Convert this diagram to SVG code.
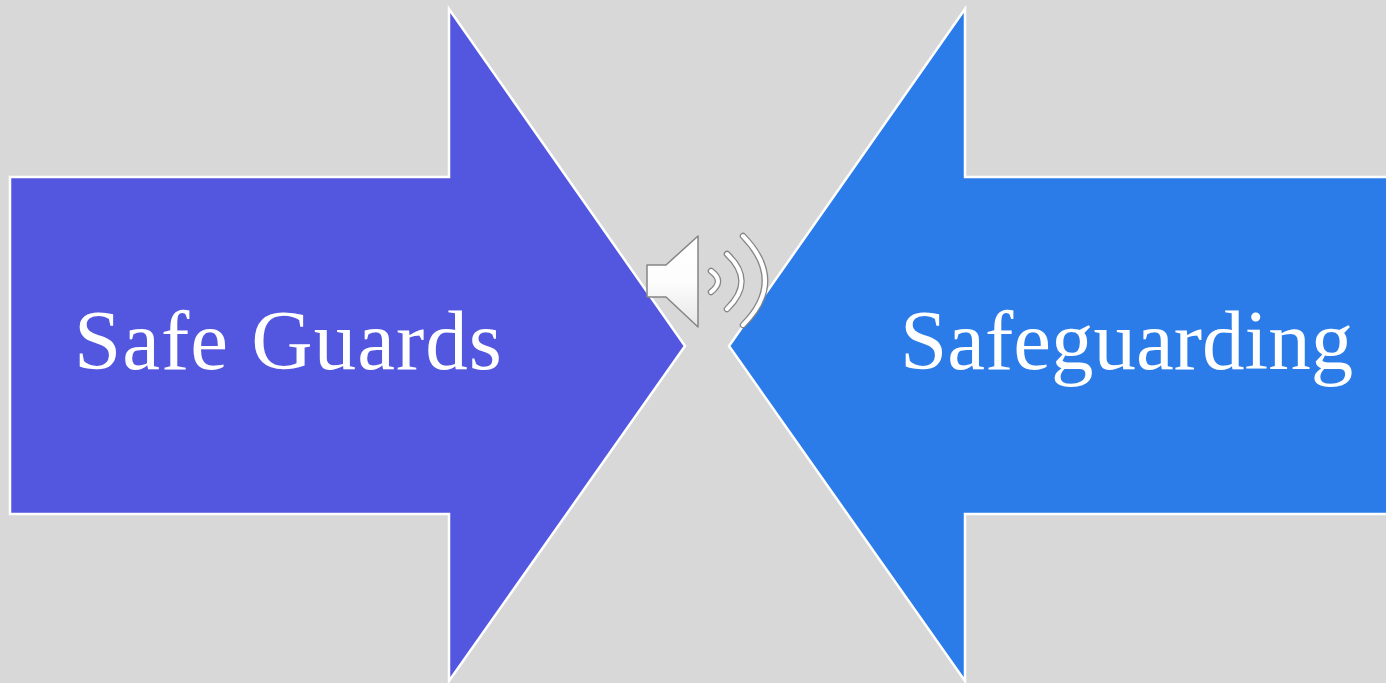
<svg xmlns="http://www.w3.org/2000/svg" width="1386" height="683" viewBox="0 0 1386 683">
<defs><linearGradient id="g" x1="0" y1="0" x2="0" y2="1"><stop offset="0" stop-color="#fff"/><stop offset="0.5" stop-color="#fdfdfd"/><stop offset="1" stop-color="#e6e6e6"/></linearGradient></defs>
<style>.a{stroke:#fff;stroke-width:2.5}.t{fill:#fff;font-family:"Liberation Serif",serif;font-size:85px}.s{fill:url(#g);stroke:#858585;stroke-width:1.5;stroke-linejoin:round}.o,.i{fill:none;stroke-linecap:round}.o{stroke:#858585;stroke-width:6.5}.i{stroke:#fff;stroke-width:4}</style>
<rect width="1386" height="683" fill="#d8d8d8"/>
<g id="safe-guards"><polygon class="a" fill="#5356df" points="10,177 449,177 449,9 685,346 449,681 449,514 10,514"/><text class="t" x="74" y="369" letter-spacing="1">Safe Guards</text></g>
<g id="safeguarding"><polygon class="a" fill="#2b7ce9" points="1388,177 965,177 965,9 729,346 965,681 965,514 1388,514"/><text class="t" x="900" y="369">Safeguarding</text></g>
<g id="speaker"><path class="s" d="M647,265H666L698,236V327L666,297H647Z"/>
<path class="o" d="M711,271Q725,281 711,292"/><path class="i" d="M711,271Q725,281 711,292"/>
<path class="o" d="M727,254Q756,281 727,309"/><path class="i" d="M727,254Q756,281 727,309"/>
<path class="o" d="M743,236Q787,281 743,325"/><path class="i" d="M743,236Q787,281 743,325"/></g>
<g id="connectors"></g>
</svg>
